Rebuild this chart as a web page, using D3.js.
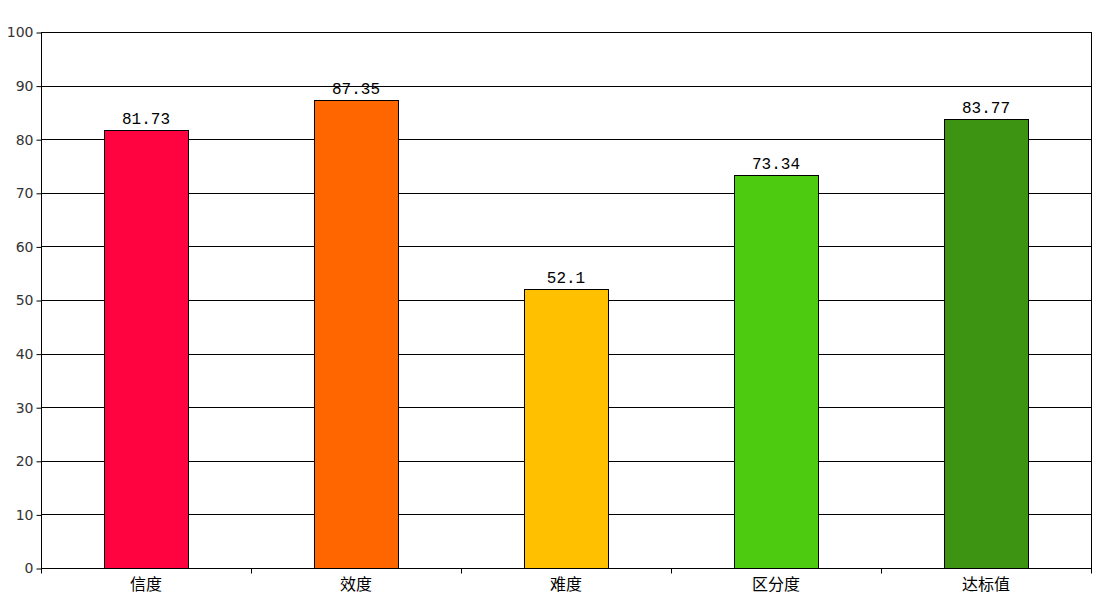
<!DOCTYPE html>
<html><head><meta charset="utf-8">
<script src="https://cdn.jsdelivr.net/npm/d3@7/dist/d3.min.js"></script>
<style>body{margin:0;background:#fff}</style>
</head><body>
<svg id="c" width="1100" height="600"></svg>
<script>
const categories = ["信度","效度","难度","区分度","达标值"];
const values = [81.73, 87.35, 52.1, 73.34, 83.77];
const colors = ["#FF0341","#FF6600","#FFC000","#4CCB10","#3D9412"];
const yTicks = [0,10,20,30,40,50,60,70,80,90,100];

const svg = d3.select("#c");
const m = {l:41, r:1091, t:32, b:568};
const x = d3.scaleBand().domain(categories).range([m.l, m.r]).paddingInner(0.6).paddingOuter(0.3);
const xb = d3.scaleBand().domain(categories).range([m.l, m.r]);
const y = d3.scaleLinear().domain([0,100]).range([m.b, m.t]);

// gridlines
svg.append("g").selectAll("line").data(yTicks.filter(d=>d>0)).join("line")
  .attr("x1", m.l).attr("x2", m.r)
  .attr("y1", d=>Math.round(y(d))+0.5).attr("y2", d=>Math.round(y(d))+0.5)
  .attr("stroke","#000").attr("stroke-width",1);
// right border
svg.append("line").attr("x1", m.r+0.5).attr("x2", m.r+0.5).attr("y1", m.t).attr("y2", m.b)
  .attr("stroke","#000");

// bars
svg.append("g").selectAll("rect").data(values).join("rect")
  .attr("x", (d,i)=>Math.round(x(categories[i]))+0.5)
  .attr("y", d=>Math.round(y(d))+0.5)
  .attr("width", Math.round(x.bandwidth()))
  .attr("height", d=>Math.round(y(0))-Math.round(y(d)))
  .attr("fill", (d,i)=>colors[i])
  .attr("stroke","#000").attr("stroke-width",1);

// value labels
svg.append("g").selectAll("text").data(values).join("text")
  .attr("x", (d,i)=>x(categories[i])+x.bandwidth()/2)
  .attr("y", d=>y(d)-6)
  .attr("text-anchor","middle")
  .attr("font-family","Liberation Mono, monospace")
  .attr("font-size",16)
  .attr("fill","#000")
  .text(d=>String(d));

// y axis
const ya = d3.axisLeft(y).tickValues(yTicks).tickSize(5).tickPadding(3);
const gy = svg.append("g").attr("transform",`translate(${m.l+0.5},0.5)`).call(ya);
gy.select(".domain").attr("stroke","#000").attr("d",`M0,${m.t}V${m.b}`);
gy.selectAll(".tick line").attr("stroke","#000");
gy.selectAll("text").attr("font-family","DejaVu Sans, sans-serif").attr("font-size",14).attr("fill","#333");

// x axis
const gx = svg.append("g").attr("transform",`translate(0,${m.b+0.5})`);
gx.append("line").attr("x1", m.l).attr("x2", m.r+1).attr("y1",0).attr("y2",0).attr("stroke","#000");
const bounds = categories.map(c=>xb(c)).concat([m.r]);
gx.selectAll("line.t").data(bounds).join("line").attr("class","t")
  .attr("x1", d=>Math.round(d)+0.5).attr("x2", d=>Math.round(d)+0.5)
  .attr("y1",0).attr("y2",5).attr("stroke","#000");
gx.selectAll("text").data(categories).join("text")
  .attr("x", d=>xb(d)+xb.bandwidth()/2)
  .attr("y", 21)
  .attr("text-anchor","middle")
  .attr("font-family","Noto Sans CJK SC, sans-serif")
  .attr("font-size",16)
  .attr("fill","#000")
  .text(d=>d);
</script>
</body></html>
